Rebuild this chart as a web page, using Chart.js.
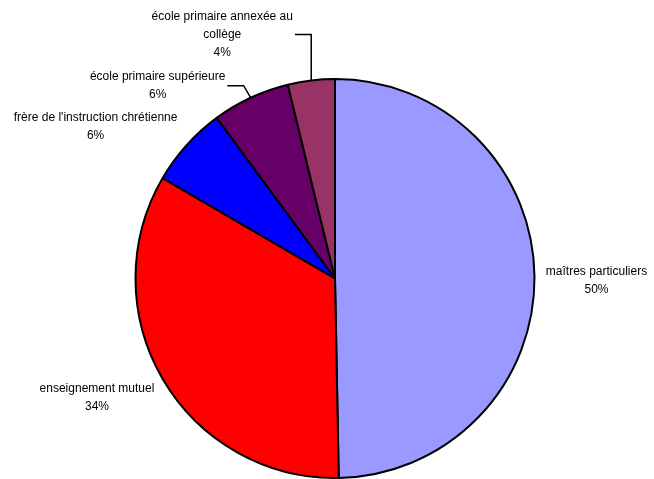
<!DOCTYPE html>
<html>
<head>
<meta charset="utf-8">
<script src="https://cdn.jsdelivr.net/npm/chart.js@4/dist/chart.umd.min.js"></script>
<style>
html,body{margin:0;padding:0;background:#fff;}
canvas{display:block;}
</style>
</head>
<body>
<canvas id="c" width="654" height="479"></canvas>
<script>
// Data
const categories = ["maîtres particuliers", "enseignement mutuel", "frère de l'instruction chrétienne", "école primaire supérieure", "école primaire annexée au collège"];
const labelLines = [["maîtres particuliers"], ["enseignement mutuel"], ["frère de l'instruction chrétienne"], ["école primaire supérieure"], ["école primaire annexée au", "collège"]];
const shares = [49.7, 33.7, 6.5, 6.3, 3.8];
const percentLabels = ["50%", "34%", "6%", "6%", "4%"];
const colors = ["#9999FF", "#FF0000", "#0000FF", "#660066", "#993366"];

// label block offsets relative to slice mid-edge point, and leader type
const labelLayout = [
  {dx: 62, dy: 4, leader: null},
  {dx: -66, dy: 18, leader: null},
  {dx: -91, dy: -18, leader: null},
  {dx: -93, dy: -12, leader: 'diag'},
  {dx: -89, dy: -46, leader: 'vert'}
];

const FONT = '12px "Liberation Sans", Arial, sans-serif';
const LINE_H = 18;

const labelPlugin = {
  id: 'pieLabels',
  afterDatasetsDraw(chart) {
    const ctx = chart.ctx;
    const meta = chart.getDatasetMeta(0);
    ctx.save();
    ctx.font = FONT;
    ctx.fillStyle = '#000';
    ctx.textAlign = 'center';
    ctx.textBaseline = 'middle';
    meta.data.forEach((arc, i) => {
      const p = arc.getProps(['x', 'y', 'startAngle', 'endAngle', 'outerRadius'], true);
      const mid = (p.startAngle + p.endAngle) / 2;
      const ex = p.x + Math.cos(mid) * p.outerRadius;
      const ey = p.y + Math.sin(mid) * p.outerRadius;
      const L = labelLayout[i];
      const bx = ex + L.dx, by = ey + L.dy;
      const lines = labelLines[i].concat([percentLabels[i]]);
      const n = lines.length;
      let maxW = 0;
      lines.forEach((t, k) => {
        maxW = Math.max(maxW, ctx.measureText(t).width);
        ctx.fillText(t, bx, by + (k - (n - 1) / 2) * LINE_H);
      });
      if (L.leader) {
        const rx = bx + maxW / 2 + 2;
        ctx.beginPath();
        ctx.strokeStyle = '#000';
        ctx.lineWidth = 1.5;
        ctx.moveTo(ex, ey);
        if (L.leader === 'vert') {
          ctx.lineTo(ex, by);
        } else {
          ctx.lineTo(ex - 7, by);
        }
        ctx.lineTo(rx, by);
        ctx.stroke();
      }
    });
    ctx.restore();
  }
};

new Chart(document.getElementById('c'), {
  type: 'pie',
  data: {
    labels: categories,
    datasets: [{
      data: shares,
      backgroundColor: colors,
      borderColor: '#000',
      borderWidth: 2
    }]
  },
  options: {
    responsive: false,
    animation: false,
    layout: {padding: {top: 78, bottom: 0, left: 134, right: 118}},
    plugins: {
      legend: {display: false},
      tooltip: {enabled: false}
    }
  },
  plugins: [labelPlugin]
});
</script>
</body>
</html>
